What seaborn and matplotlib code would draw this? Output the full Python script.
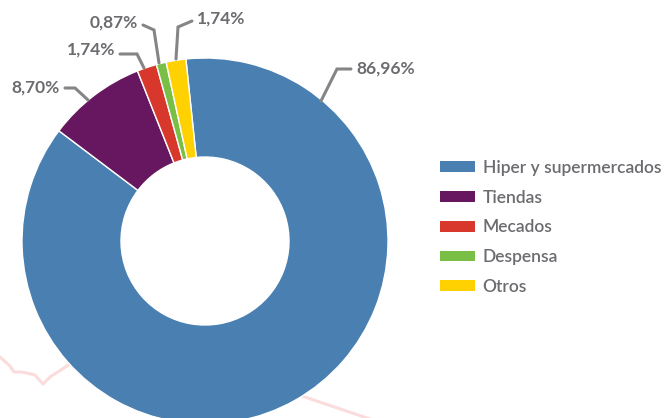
import numpy as np
import matplotlib
matplotlib.use("Agg")
import matplotlib.pyplot as plt
import seaborn as sns
from matplotlib.patches import Patch

sns.set_theme(style="white")
plt.rcParams["font.family"] = ["Lato", "DejaVu Sans"]

# Share of purchases by channel (%)
categories = ["Hiper y supermercados", "Tiendas", "Mecados", "Despensa", "Otros"]
shares = [86.96, 8.70, 1.74, 0.87, 1.74]
colors = ["#4a80b1", "#66175f", "#d8372c", "#79bf45", "#ffd100"]

TEXT = "#6b6b70"
LEADER = "#858585"

W, H = 669, 418
fig = plt.figure(figsize=(W / 100, H / 100), dpi=100)
ax = fig.add_axes([0, 0, 1, 1])

# Pixel layout: donut centre and radius
cx, cy, R = 205, 241, 183


def px(x, y):
    """Pixel (from top-left) to data units, where the donut has radius 1."""
    return (x - cx) / R, (cy - y) / R


# Faint background outline
deco_left = [(0, 357), (10, 366), (14, 372), (22, 372), (35, 375), (43, 384),
             (50, 377), (70, 364), (110, 345)]
deco_right = [(290, 392), (370, 419)]
for path in (deco_left, deco_right):
    xs, ys = zip(*[px(x, y) for x, y in path])
    ax.plot(xs, ys, color="#fbdcdc", lw=2.2, solid_capstyle="round", zorder=0)

wedges, _ = ax.pie(
    shares, colors=colors, startangle=96, counterclock=False, radius=1,
    wedgeprops=dict(width=1 - 84 / R, edgecolor="white", linewidth=1),
)
for w in wedges:
    w.set_zorder(2)

# Value labels with elbow leader lines: (text anchor, elbow, end on ring)
labels = [f"{v:.2f}%".replace(".", ",") for v in shares]
leaders = [
    dict(text=(356, 69), ha="left", pts=[(351, 69), (337, 69), (321, 101)]),
    dict(text=(60, 88), ha="right", pts=[(65, 88), (75, 88), (88, 100)]),
    dict(text=(115, 50), ha="right", pts=[(120, 54), (137, 54), (144, 68)]),
    dict(text=(138, 23), ha="right", pts=[(143, 25), (154, 30), (159, 63)]),
    dict(text=(197, 19), ha="left", pts=[(192, 21), (178, 27), (176, 59)]),
]
for lab, ld in zip(labels, leaders):
    xs, ys = zip(*[px(x, y) for x, y in ld["pts"]])
    ax.plot(xs, ys, color=LEADER, lw=2.2, solid_joinstyle="miter", zorder=3)
    tx, ty = px(*ld["text"])
    ax.text(tx, ty, lab, ha=ld["ha"], va="center", color=TEXT,
            fontsize=12.5, fontweight="bold", zorder=4)

ax.set_xlim(-cx / R, (W - cx) / R)
ax.set_ylim(-(H - cy) / R, cy / R)
ax.set_aspect("equal")
ax.axis("off")

handles = [Patch(facecolor=c, edgecolor="none", label=l) for c, l in zip(colors, categories)]
leg = fig.legend(
    handles=handles, loc="upper left", bbox_to_anchor=(433 / W, 1 - 153 / H),
    frameon=False, fontsize=12.5, handlelength=2.0, handleheight=0.58,
    handletextpad=0.46, labelspacing=0.79, borderaxespad=0,
)
for t in leg.get_texts():
    t.set_color(TEXT)
    t.set_fontweight("semibold")

fig.savefig("out.png", dpi=100)
